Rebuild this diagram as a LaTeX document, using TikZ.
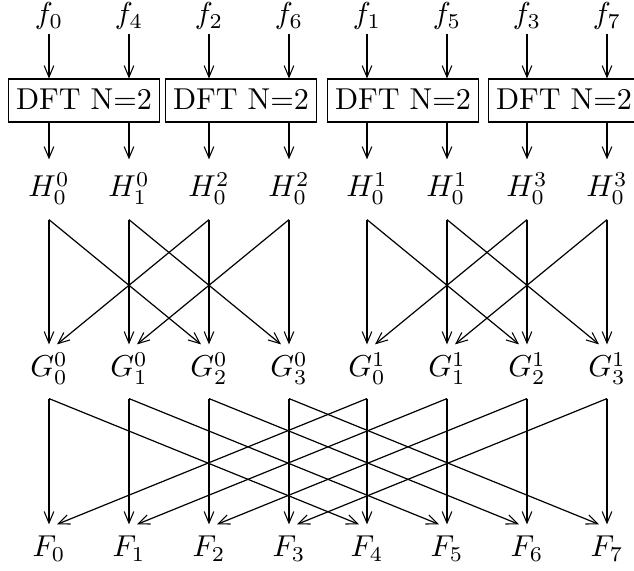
\documentclass[tikz,border=0pt]{standalone}
\usetikzlibrary{arrows.meta}
\begin{document}
\begin{tikzpicture}[x=0.331pt,y=-0.331pt,
  lbl/.style={inner sep=0pt,anchor=base},
  frowst/.style={lbl,text height=7pt,text depth=3pt},
  hrowst/.style={lbl,text height=12.25pt,text depth=7.3pt},
  growst/.style={lbl,text height=10.6pt,text depth=6.95pt},
  Frowst/.style={lbl,text height=10.6pt,text depth=2pt},
  dftbox/.style={draw,line width=0.4pt,inner xsep=2.6pt,inner ysep=0pt,text height=10.2pt,text depth=4pt,anchor=center},
  arr/.style={-{Straight Barb[length=3.8pt,width=3.2pt,line width=0.35pt]},line width=0.4pt},
  shr/.style={xshift=2.65pt},
  shl/.style={xshift=-2.65pt}]
\useasboundingbox (0,0) rectangle (634,571);
% input labels
\node[frowst] (f0) at (49,24) {$f_0$};
\node[frowst] (f4) at (129,24) {$f_4$};
\node[frowst] (f2) at (209,24) {$f_2$};
\node[frowst] (f6) at (289,24) {$f_6$};
\node[frowst] (f1) at (367,24) {$f_1$};
\node[frowst] (f5) at (447,24) {$f_5$};
\node[frowst] (f3) at (527,24) {$f_3$};
\node[frowst] (f7) at (607,24) {$f_7$};
% DFT boxes
\node[dftbox] (b1) at (84,100.5) {DFT N=2};
\node[dftbox] (b2) at (241,100.5) {DFT N=2};
\node[dftbox] (b3) at (403,100.5) {DFT N=2};
\node[dftbox] (b4) at (564,100.5) {DFT N=2};
% H labels
\node[hrowst] (h0) at (49,197) {$H_0^0$};
\node[hrowst] (h1) at (129,197) {$H_1^0$};
\node[hrowst] (h2) at (209,197) {$H_0^2$};
\node[hrowst] (h3) at (289,197) {$H_0^2$};
\node[hrowst] (h4) at (367,197) {$H_0^1$};
\node[hrowst] (h5) at (447,197) {$H_0^1$};
\node[hrowst] (h6) at (527,197) {$H_0^3$};
\node[hrowst] (h7) at (607,197) {$H_0^3$};
% G labels
\node[growst] (g0) at (49,377) {$G_0^0$};
\node[growst] (g1) at (129,377) {$G_1^0$};
\node[growst] (g2) at (209,377) {$G_2^0$};
\node[growst] (g3) at (289,377) {$G_3^0$};
\node[growst] (g4) at (367,377) {$G_0^1$};
\node[growst] (g5) at (447,377) {$G_1^1$};
\node[growst] (g6) at (527,377) {$G_2^1$};
\node[growst] (g7) at (607,377) {$G_3^1$};
% F labels
\node[Frowst] (F0) at (49,557) {$F_0$};
\node[Frowst] (F1) at (129,557) {$F_1$};
\node[Frowst] (F2) at (209,557) {$F_2$};
\node[Frowst] (F3) at (289,557) {$F_3$};
\node[Frowst] (F4) at (367,557) {$F_4$};
\node[Frowst] (F5) at (447,557) {$F_5$};
\node[Frowst] (F6) at (527,557) {$F_6$};
\node[Frowst] (F7) at (607,557) {$F_7$};
% inputs into boxes
\foreach \f/\b in {f0/b1,f4/b1,f2/b2,f6/b2,f1/b3,f5/b3,f3/b4,f7/b4}
  \draw[arr] (\f.south) -- (\f |- \b.north);
% boxes to H
\foreach \h/\b in {h0/b1,h1/b1,h2/b2,h3/b2,h4/b3,h5/b3,h6/b4,h7/b4}
  \draw[arr] (\h |- \b.south) -- (\h.north);
% H to G
\foreach \i in {0,...,7}
  \draw[arr] (h\i.south) -- (g\i.north);
\foreach \a/\b in {h0/g2,h1/g3,h4/g6,h5/g7}
  \draw[arr] (\a.south) -- ([shl]\b.north);
\foreach \a/\b in {h2/g0,h3/g1,h6/g4,h7/g5}
  \draw[arr] (\a.south) -- ([shr]\b.north);
% G to F
\foreach \i in {0,...,7}
  \draw[arr] (g\i.south) -- (F\i.north);
\foreach \a/\b in {g0/F4,g1/F5,g2/F6,g3/F7}
  \draw[arr] (\a.south) -- ([shl]\b.north);
\foreach \a/\b in {g4/F0,g5/F1,g6/F2,g7/F3}
  \draw[arr] (\a.south) -- ([shr]\b.north);
\end{tikzpicture}
\end{document}
